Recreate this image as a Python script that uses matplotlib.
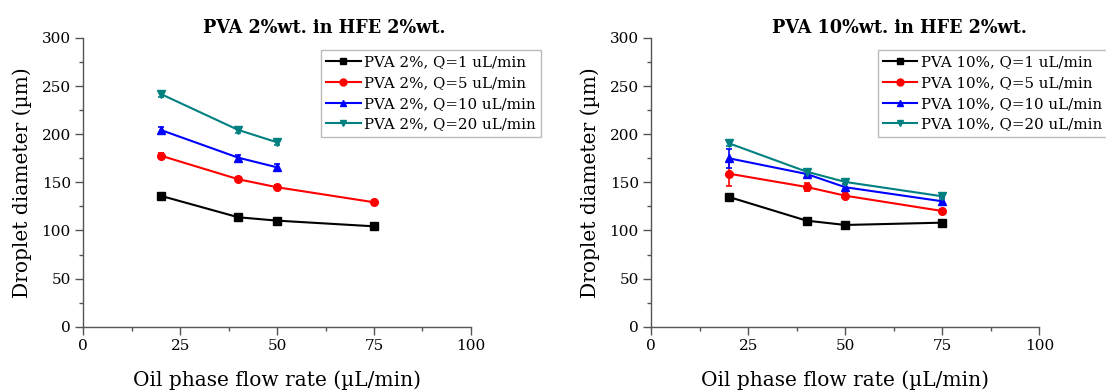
import matplotlib
matplotlib.use("Agg")
import matplotlib.pyplot as plt
from matplotlib.ticker import MultipleLocator
from matplotlib.lines import Line2D

plt.rcParams['font.family'] = ['DejaVu Serif']

x4 = [20, 40, 50, 75]
x3 = [20, 40, 50]

# PVA 2% panel
a_q1 = [136, 113.7, 110.2, 104.3]
a_q1_err = [2.5, 2, 2, 2]
a_q5 = [177.7, 153.2, 144.9, 129.3]
a_q5_err = [2.5, 2, 2, 2]
a_q10 = [204.4, 175.6, 165.6]
a_q10_err = [3, 3, 3]
a_q20 = [241.8, 204.4, 191.6]
a_q20_err = [3, 3, 3]

# PVA 10% panel
b_q1 = [134.8, 110.2, 105.7, 108.1]
b_q1_err = [2, 2, 2, 2]
b_q5 = [159, 145.2, 136.1, 120.2]
b_q5_err = [13, 4, 2.5, 2.5]
b_q10 = [175, 158.7, 144.9, 130.3]
b_q10_err = [10, 3, 3, 4]
b_q20 = [190.6, 161.1, 150.4, 135.5]
b_q20_err = [3, 2.5, 2.5, 3]

colors = ['#000000', '#ff0000', '#0000ff', '#008080']
markers = ['s', 'o', '^', 'v']
qs = [1, 5, 10, 20]

fig = plt.figure(figsize=(11.06, 3.92), dpi=100)
axA = fig.add_axes([0.0753, 0.1666, 0.3505, 0.7365])
axB = fig.add_axes([0.5889, 0.1666, 0.3508, 0.7365])

panels = [
    (axA, "PVA 2%wt. in HFE 2%wt.", "PVA 2%",
     [(x4, a_q1, a_q1_err), (x4, a_q5, a_q5_err), (x3, a_q10, a_q10_err), (x3, a_q20, a_q20_err)],
     (0.2902, 0.8724), 0.2934),
    (axB, "PVA 10%wt. in HFE 2%wt.", "PVA 10%",
     [(x4, b_q1, b_q1_err), (x4, b_q5, b_q5_err), (x4, b_q10, b_q10_err), (x4, b_q20, b_q20_err)],
     (0.7935, 0.8724), 0.8128),
]

for ax, title, pva, series, legpos, tx in panels:
    handles = []
    for (xs, ys, es), c, m, q in zip(series, colors, markers, qs):
        ax.errorbar(xs, ys, yerr=es, color=c, marker=m, markersize=5.5,
                    lw=1.5, elinewidth=1.2, capsize=2.5, capthick=1.2)
        handles.append(Line2D([], [], color=c, marker=m, markersize=5, lw=1.5,
                              label=f"{pva}, Q={q} uL/min"))
    ax.set_xlim(0, 100)
    ax.set_ylim(0, 300)
    ax.xaxis.set_major_locator(MultipleLocator(25))
    ax.xaxis.set_minor_locator(MultipleLocator(12.5))
    ax.yaxis.set_major_locator(MultipleLocator(50))
    ax.yaxis.set_minor_locator(MultipleLocator(25))
    for s in ['top', 'right']:
        ax.spines[s].set_visible(False)
    for s in ['left', 'bottom']:
        ax.spines[s].set_color('#555555')
        ax.spines[s].set_linewidth(1.0)
    ax.tick_params(which='major', length=6, width=1, color='#555555', labelsize=11, pad=3)
    ax.tick_params(which='minor', length=3, width=1, color='#555555')
    fig.text(tx, 0.9286, title, fontsize=12.7, fontweight='bold', ha='center', va='center')
    ax.set_xlabel("Oil phase flow rate (\u00b5L/min)", fontsize=14.5)
    ax.set_ylabel("Droplet diameter (\u00b5m)", fontsize=14.5)
    ax.xaxis.set_label_coords(0.5, -0.185)
    ax.xaxis.label.set_va('center')
    ax.yaxis.set_label_coords(-0.158, 0.5)
    ax.yaxis.label.set_va('center')
    leg = fig.legend(handles=handles, loc='upper left', bbox_to_anchor=legpos,
                     bbox_transform=fig.transFigure, fontsize=10.8, frameon=True,
                     fancybox=False, edgecolor='#aaaaaa', handlelength=2.3,
                     handletextpad=0.25, borderpad=0.35, labelspacing=0.45,
                     borderaxespad=0)
    leg.get_frame().set_linewidth(1.0)

fig.savefig("out.png", dpi=100)
